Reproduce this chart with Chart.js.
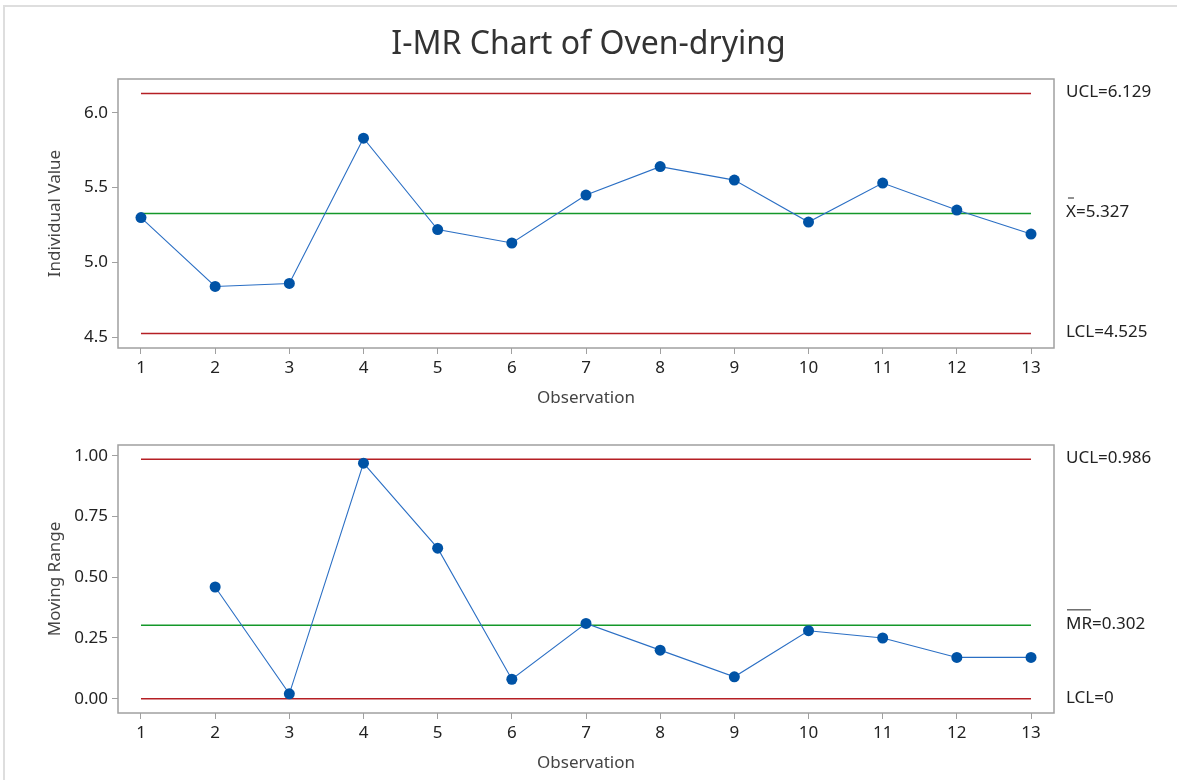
<!DOCTYPE html>
<html>
<head>
<meta charset="utf-8">
<title>I-MR Chart of Oven-drying</title>
<script src="https://cdn.jsdelivr.net/npm/chart.js@4/dist/chart.umd.min.js"></script>
<style>
  html, body { margin: 0; padding: 0; background: #fff; }
  #frame {
    position: absolute; left: 3px; top: 5px; width: 1174px; height: 775px;
    border-top: 2px solid #dedede; border-left: 2px solid #dedede;
  }
  canvas { position: absolute; left: 0; }
</style>
</head>
<body>
<div id="frame"></div>
<canvas id="ichart" width="1177" height="420" style="top:0"></canvas>
<canvas id="mrchart" width="1177" height="360" style="top:420px"></canvas>
<script>
// observations and readings
const observations = [1, 2, 3, 4, 5, 6, 7, 8, 9, 10, 11, 12, 13];
const individualValues = [5.30, 4.84, 4.86, 5.83, 5.22, 5.13, 5.45, 5.64, 5.55, 5.27, 5.53, 5.35, 5.19];
const movingRanges = [null, 0.46, 0.02, 0.97, 0.62, 0.08, 0.31, 0.20, 0.09, 0.28, 0.25, 0.17, 0.17];

// control limits: [UCL, centre, LCL]
const iLimits = [6.129, 5.327, 4.525];
const mrLimits = [0.986, 0.302, 0];

// y tick values
const iTicks = [4.5, 5.0, 5.5, 6.0];
const mrTicks = [0, 0.25, 0.5, 0.75, 1.0];

const FONT = '"Noto Sans", "Open Sans", sans-serif';
const RED = '#b51f24';
const GREEN = '#14982a';
const LINE = '#2b6fc4';
const MARK = '#0053a6';
const AXIS = '#a0a0a0';

function seriesDataset(values) {
  const pts = [];
  observations.forEach((x, i) => { if (values[i] !== null) pts.push({ x: x, y: values[i] }); });
  return {
    data: pts,
    borderColor: LINE,
    borderWidth: 1.1,
    pointRadius: 5.5,
    pointBackgroundColor: MARK,
    pointBorderColor: MARK,
    pointBorderWidth: 0
  };
}

function limitDataset(value, color) {
  return {
    data: [{ x: observations[0], y: value }, { x: observations[observations.length - 1], y: value }],
    borderColor: color,
    borderWidth: 1.5,
    pointRadius: 0
  };
}

// box round the plot area
const plotFrame = {
  id: 'plotFrame',
  afterDraw(chart) {
    const { ctx, chartArea: a } = chart;
    ctx.save();
    ctx.strokeStyle = AXIS;
    ctx.lineWidth = 1.5;
    ctx.strokeRect(a.left, a.top, a.right - a.left, a.bottom - a.top);
    ctx.restore();
  }
};

// limit labels to the right of the plot
const limitLabels = {
  id: 'limitLabels',
  afterDraw(chart, args, opts) {
    const { ctx, chartArea, scales } = chart;
    ctx.save();
    ctx.font = '17px ' + FONT;
    ctx.fillStyle = '#222';
    ctx.textBaseline = 'middle';
    ctx.textAlign = 'left';
    const x = chartArea.right + 12;
    opts.items.forEach(item => {
      const y = scales.y.getPixelForValue(item.value) - 1;
      ctx.fillText(item.name + '=' + item.value, x, y);
      if (item.bar) {
        const w = ctx.measureText(item.name).width;
        ctx.strokeStyle = '#222';
        ctx.lineWidth = 1;
        ctx.beginPath();
        if (item.bar === 'short') {
          ctx.moveTo(x + w / 2 - 3, y - 14.5);
          ctx.lineTo(x + w / 2 + 3, y - 14.5);
        } else {
          ctx.moveTo(x + 1, y - 14.5);
          ctx.lineTo(x + w - 1, y - 14.5);
        }
        ctx.stroke();
      }
    });
    ctx.restore();
  }
};

function xScale() {
  return {
    type: 'linear',
    min: 0.69,
    max: 13.31,
    afterBuildTicks: s => { s.ticks = observations.map(v => ({ value: v })); },
    afterFit: s => { s.height = 60; },
    grid: { drawOnChartArea: false, drawTicks: true, tickLength: 6, color: AXIS, tickWidth: 1 },
    border: { display: false },
    ticks: { color: '#222', font: { family: FONT, size: 17 }, padding: 4, maxRotation: 0 },
    title: { display: true, text: 'Observation', color: '#444', font: { family: FONT, size: 17 }, padding: { top: 0, bottom: 0 } }
  };
}

function yScale(min, max, ticks, digits, title) {
  return {
    min: min,
    max: max,
    afterBuildTicks: s => { s.ticks = ticks.map(v => ({ value: v })); },
    afterFit: s => { s.width = 118; },
    grid: { drawOnChartArea: false, drawTicks: true, tickLength: 6, color: AXIS, tickWidth: 1 },
    border: { display: false },
    ticks: { color: '#222', font: { family: FONT, size: 17 }, padding: 4, callback: v => Number(v).toFixed(digits) },
    title: { display: true, text: title, color: '#444', font: { family: FONT, size: 17 }, padding: { top: 45, bottom: 0 } }
  };
}

// empty right-hand axis that reserves room for the limit labels
function labelGutter() {
  return {
    position: 'right',
    grid: { display: false },
    border: { display: false },
    ticks: { display: false },
    afterFit: s => { s.width = 123; }
  };
}

Chart.defaults.animation = false;

new Chart(document.getElementById('ichart'), {
  type: 'line',
  data: {
    datasets: [
      seriesDataset(individualValues),
      limitDataset(iLimits[0], RED),
      limitDataset(iLimits[1], GREEN),
      limitDataset(iLimits[2], RED)
    ]
  },
  options: {
    responsive: false,
    layout: { padding: { top: 0, right: 0, bottom: 12, left: 0 } },
    plugins: {
      legend: { display: false },
      tooltip: { enabled: false },
      title: {
        display: true,
        text: 'I-MR Chart of Oven-drying',
        color: '#333',
        font: { family: FONT, size: 32, weight: 'normal' },
        padding: { top: 26, bottom: 14.6 }
      },
      limitLabels: {
        items: [
          { name: 'UCL', value: iLimits[0] },
          { name: 'X', value: iLimits[1], bar: 'short' },
          { name: 'LCL', value: iLimits[2] }
        ]
      }
    },
    scales: {
      x: xScale(),
      y: yScale(4.429, 6.225, iTicks, 1, 'Individual Value'),
      gutter: labelGutter()
    }
  },
  plugins: [plotFrame, limitLabels]
});

new Chart(document.getElementById('mrchart'), {
  type: 'line',
  data: {
    datasets: [
      seriesDataset(movingRanges),
      limitDataset(mrLimits[0], RED),
      limitDataset(mrLimits[1], GREEN),
      limitDataset(mrLimits[2], RED)
    ]
  },
  options: {
    responsive: false,
    layout: { padding: { top: 25, right: 0, bottom: 7, left: 0 } },
    plugins: {
      legend: { display: false },
      tooltip: { enabled: false },
      limitLabels: {
        items: [
          { name: 'UCL', value: mrLimits[0] },
          { name: 'MR', value: mrLimits[1], bar: 'full' },
          { name: 'LCL', value: mrLimits[2] }
        ]
      }
    },
    scales: {
      x: xScale(),
      y: yScale(-0.059, 1.045, mrTicks, 2, 'Moving Range'),
      gutter: labelGutter()
    }
  },
  plugins: [plotFrame, limitLabels]
});
</script>
</body>
</html>
